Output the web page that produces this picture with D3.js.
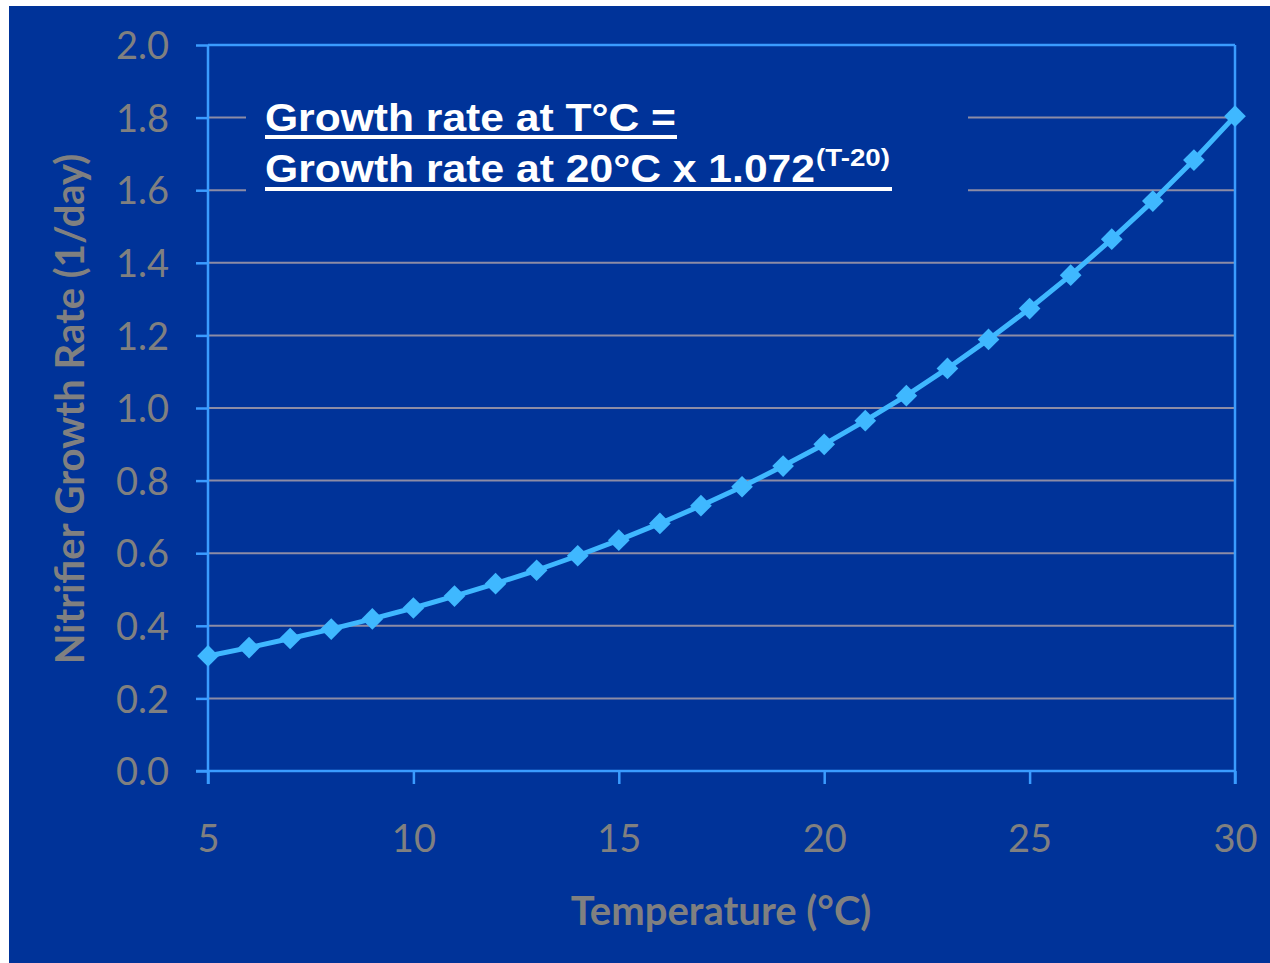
<!DOCTYPE html>
<html><head><meta charset="utf-8">
<script src="https://cdn.jsdelivr.net/npm/d3@7"></script>
<style>html,body{margin:0;padding:0;background:#fff;}svg{display:block;}</style>
</head><body>
<svg id="c" width="1270" height="963"></svg>
<script>
const temperatures = [5,6,7,8,9,10,11,12,13,14,15,16,17,18,19,20,21,22,23,24,25,26,27,28,29,30];
const growthRates = [0.317,0.340,0.365,0.391,0.419,0.449,0.482,0.516,0.553,0.593,0.636,0.682,0.731,0.783,0.840,0.900,0.965,1.034,1.109,1.189,1.274,1.366,1.465,1.570,1.683,1.804];
const yTicks = [0,0.2,0.4,0.6,0.8,1.0,1.2,1.4,1.6,1.8,2.0];
const xTicks = [5,10,15,20,25,30];
const xTitle = "Temperature (°C)";
const yTitle = "Nitrifier Growth Rate (1/day)";
const formulaLine1 = "Growth rate at T°C =";
const formulaLine2 = "Growth rate at 20°C x 1.072";
const formulaSup = "(T-20)";

const svg = d3.select("#c");
const BG = "#003399", AX = "#3a9cff", GRID = "#8c8ca6", TXT = "#808080", LINE = "#3fb8ff";
svg.append("rect").attr("x",9).attr("y",6).attr("width",1261).attr("height",957).attr("fill",BG);

const L=208, R=1235, T=45, B=771;
const x = d3.scaleLinear().domain([5,30]).range([L,R]);
const y = d3.scaleLinear().domain([0,2]).range([B,T]);
const font = "Lato, 'Open Sans', sans-serif";

// gridlines
svg.append("g").selectAll("line").data(yTicks.filter(d=>d>0 && d<2)).join("line")
  .attr("x1",L).attr("x2",R).attr("y1",d=>y(d)).attr("y2",d=>y(d))
  .attr("stroke",GRID).attr("stroke-width",2);

// textbox background covering gridlines
svg.append("rect").attr("x",246).attr("y",90).attr("width",722).attr("height",112).attr("fill",BG);

// border top & right
svg.append("line").attr("x1",L).attr("x2",R).attr("y1",T).attr("y2",T).attr("stroke",AX).attr("stroke-width",2.5);
svg.append("line").attr("x1",R).attr("x2",R).attr("y1",T).attr("y2",B+13).attr("stroke",AX).attr("stroke-width",2.5);

// y axis
const yAxis = d3.axisLeft(y).tickValues(yTicks).tickFormat(d3.format(".1f")).tickSize(12).tickPadding(27);
const gy = svg.append("g").attr("transform",`translate(${L},0)`).call(yAxis);
gy.select(".domain").attr("stroke",AX).attr("stroke-width",2.5).attr("d",`M0,${B+13}V${T}`);
gy.selectAll(".tick line").attr("stroke",AX).attr("stroke-width",2.5);
gy.selectAll(".tick text").attr("fill",TXT).style("font-family",font).style("font-size","38px").attr("dy","0.36em");

// x axis
const xAxis = d3.axisBottom(x).tickValues(xTicks).tickSize(13).tickPadding(41);
const gx = svg.append("g").attr("transform",`translate(0,${B})`).call(xAxis);
gx.select(".domain").attr("stroke",AX).attr("stroke-width",2.5).attr("d",`M${L-12},0H${R}`);
gx.selectAll(".tick line").attr("stroke",AX).attr("stroke-width",2.5);
gx.selectAll(".tick text").attr("fill",TXT).style("font-family",font).style("font-size","38px");

// titles
svg.append("text").attr("x",721).attr("y",925).attr("text-anchor","middle")
  .attr("fill",TXT).style("font-family",font).style("font-weight","bold").style("font-size","40px").text(xTitle);
svg.append("text").attr("transform","translate(84,409) rotate(-90)").attr("text-anchor","middle")
  .attr("fill",TXT).style("font-family",font).style("font-weight","bold").style("font-size","40px").text(yTitle);

// line & markers
const pts = temperatures.map((t,i)=>({t, v:growthRates[i]}));
svg.append("path").datum(pts)
  .attr("d", d3.line().x(d=>x(d.t)).y(d=>y(d.v)))
  .attr("fill","none").attr("stroke",LINE).attr("stroke-width",5).attr("stroke-linejoin","round");
svg.append("g").selectAll("path").data(pts).join("path")
  .attr("transform",d=>`translate(${x(d.t)},${y(d.v)})`)
  .attr("d", d3.symbol().type(d3.symbolDiamond2).size(300))
  .attr("fill",LINE);

// formula text
const fFont = "'Liberation Sans', Arial, sans-serif";
svg.append("text").attr("x",265).attr("y",131).attr("fill","#fff")
  .style("font-family",fFont).style("font-weight","bold").style("font-size","38px")
  .attr("textLength",411).attr("lengthAdjust","spacingAndGlyphs").text(formulaLine1);
svg.append("rect").attr("x",265).attr("y",135).attr("width",412).attr("height",4).attr("fill","#fff");
svg.append("text").attr("x",265).attr("y",182).attr("fill","#fff")
  .style("font-family",fFont).style("font-weight","bold").style("font-size","38px")
  .attr("textLength",550).attr("lengthAdjust","spacingAndGlyphs").text(formulaLine2);
svg.append("text").attr("x",816).attr("y",166).attr("fill","#fff")
  .style("font-family",fFont).style("font-weight","bold").style("font-size","23px")
  .attr("textLength",74).attr("lengthAdjust","spacingAndGlyphs").text(formulaSup);
svg.append("rect").attr("x",265).attr("y",187).attr("width",627).attr("height",4).attr("fill","#fff");
</script>
</body></html>
